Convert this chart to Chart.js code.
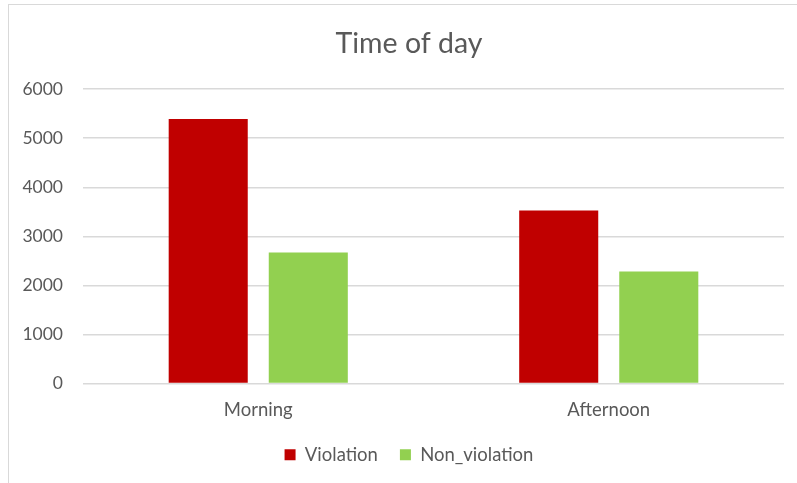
<!DOCTYPE html>
<html>
<head>
<meta charset="utf-8">
<script src="https://cdn.jsdelivr.net/npm/chart.js@4.4.0/dist/chart.umd.min.js"></script>
<style>
  html, body { margin: 0; padding: 0; background: #fff; overflow: hidden; }
  #frame {
    position: absolute; left: 8px; top: 4px; width: 810px; height: 500px;
    border: 1.5px solid #d9d9d9; box-sizing: border-box;
  }
  #wrap { position: absolute; left: 0; top: 0; width: 818px; height: 483px; }
</style>
</head>
<body>
<div id="frame"></div>
<div id="wrap"><canvas id="timeChart"></canvas></div>
<script>
const categories = ['Morning', 'Afternoon'];
const violation = [5390, 3525];
const nonViolation = [2670, 2285];
const yTicks = [0, 1000, 2000, 3000, 4000, 5000, 6000];

const textGray = '#595959';
const fontFamily = 'Lato, "Open Sans", sans-serif';

const ctx = document.getElementById('timeChart').getContext('2d');
new Chart(ctx, {
    type: 'bar',
    data: {
        labels: categories,
        datasets: [{
            label: 'Violation',
            data: violation,
            backgroundColor: '#C00000',
            borderWidth: 0,
            barPercentage: 0.79,
            categoryPercentage: 0.571
        }, {
            label: 'Non_violation',
            data: nonViolation,
            backgroundColor: '#92D050',
            borderWidth: 0,
            barPercentage: 0.79,
            categoryPercentage: 0.571
        }]
    },
    options: {
        responsive: true,
        maintainAspectRatio: false,
        animation: false,
        // symmetric side padding keeps title + legend centred on the frame
        layout: { padding: { left: 34, right: 34, top: 0, bottom: 9 } },
        plugins: {
            title: {
                display: true,
                text: 'Time of day',
                color: textGray,
                font: { family: fontFamily, size: 28.5, weight: 'normal' },
                padding: { top: 27, bottom: 28 }
            },
            legend: {
                position: 'bottom',
                labels: {
                    color: textGray,
                    font: { family: fontFamily, size: 18.5 },
                    boxWidth: 11,
                    boxHeight: 11,
                    padding: 22
                }
            },
            tooltip: { enabled: false }
        },
        scales: {
            x: {
                grid: { display: false },
                border: { display: false },
                afterFit: axis => { axis.height = 40; },
                ticks: {
                    color: textGray,
                    font: { family: fontFamily, size: 18.5 },
                    padding: 7
                }
            },
            y: {
                min: 0,
                max: 6000,
                afterBuildTicks: axis => { axis.ticks = yTicks.map(v => ({ value: v })); },
                afterFit: axis => {
                    axis.width = 49;
                    // labels stick out left of the padded box, so don't clip them
                    axis._computeLabelArea = () => undefined;
                },
                grid: { color: '#d9d9d9', lineWidth: 1.5, drawTicks: false },
                border: { display: false },
                ticks: {
                    color: textGray,
                    font: { family: fontFamily, size: 17.5 },
                    padding: 20,
                    callback: v => String(v)
                }
            }
        }
    }
});
</script>
</body>
</html>
